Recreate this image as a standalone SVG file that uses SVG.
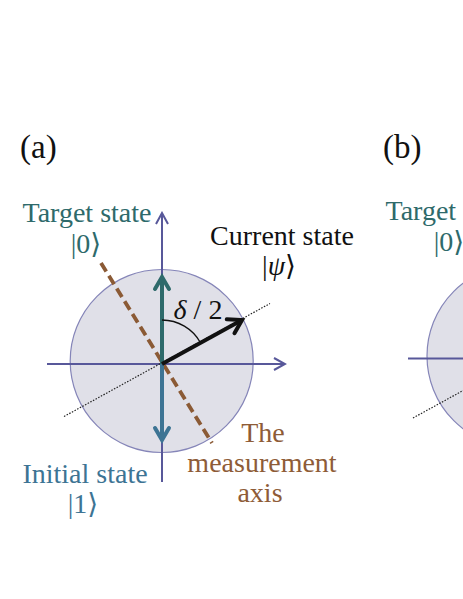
<svg xmlns="http://www.w3.org/2000/svg" width="463" height="599" viewBox="0 0 463 599">
<defs>
<style>
text { font-family: "Liberation Serif", "DejaVu Serif", serif; font-size: 28px; text-anchor: middle; }
.panel { font-size: 33px; text-anchor: start; fill: #111; }
.teal { fill: #2e6a6b; }
.blue { fill: #3d7494; }
.brown { fill: #8e5c37; }
.dark { fill: #111; }
.axis { stroke: #58589a; stroke-width: 2; fill: none; }
.circ { fill: #e0e0e8; stroke: #8585b8; stroke-width: 1.2; }
.dot { stroke: #222; stroke-width: 1.2; stroke-dasharray: 1.5 1.5; fill: none; }
.dash { stroke: #8b5a35; stroke-width: 3.8; stroke-dasharray: 10 5; fill: none; }
.arc { stroke: #111; stroke-width: 1.3; fill: none; }
</style>
<marker id="axHead" markerUnits="userSpaceOnUse" viewBox="-14 -8 16 16" markerWidth="16" markerHeight="16" refX="0" refY="0" orient="auto">
<path d="M-11,-6 L0,0 L-11,6" fill="none" stroke="#58589a" stroke-width="2"/>
</marker>
<marker id="tealHead" markerUnits="userSpaceOnUse" viewBox="-16 -10 20 20" markerWidth="20" markerHeight="20" refX="0" refY="0" orient="auto">
<path d="M-12,-7 L0,0 L-12,7" fill="none" stroke="#2e6a6b" stroke-width="4" stroke-linecap="round"/>
</marker>
<marker id="blueHead" markerUnits="userSpaceOnUse" viewBox="-16 -10 20 20" markerWidth="20" markerHeight="20" refX="0" refY="0" orient="auto">
<path d="M-12,-7 L0,0 L-12,7" fill="none" stroke="#3d7494" stroke-width="4" stroke-linecap="round"/>
</marker>
<marker id="blackHead" markerUnits="userSpaceOnUse" viewBox="-18 -11 22 22" markerWidth="22" markerHeight="22" refX="0" refY="0" orient="auto">
<path d="M-13,-8 L0,0 L-13,8" fill="none" stroke="#111" stroke-width="4" stroke-linecap="round"/>
</marker>
</defs>

<g id="panel-a">
<g id="label-a"><text class="panel" x="20" y="158">(a)</text></g>
<g id="bloch-circle-a"><circle class="circ" cx="161.7" cy="361" r="91.5"/></g>
<g id="connectors-a">
<line class="axis" x1="47" y1="364" x2="285" y2="364" marker-end="url(#axHead)"/>
<line class="axis" x1="162" y1="482" x2="162" y2="213" marker-end="url(#axHead)"/>
<line class="dot" x1="64" y1="416.5" x2="270" y2="303.5"/>
<line class="dash" x1="101" y1="263" x2="212" y2="443"/>
<line x1="162" y1="364" x2="162" y2="277" stroke="#2e6a6b" stroke-width="4" marker-end="url(#tealHead)"/>
<line x1="162" y1="364" x2="162" y2="440" stroke="#3d7494" stroke-width="4" marker-end="url(#blueHead)"/>
<line x1="162" y1="364" x2="242" y2="320" stroke="#111" stroke-width="4" marker-end="url(#blackHead)"/>
<path class="arc" d="M162,320 A44,44 0 0 1 200.5,342.7"/>
</g>
<g id="angle-label"><text class="dark" x="198" y="319" font-size="25"><tspan font-style="italic">δ</tspan> / 2</text></g>
<g id="target-state-a">
<text class="teal" x="87" y="222">Target state</text>
<text class="teal" x="86" y="253">|0⟩</text>
</g>
<g id="current-state">
<text class="dark" x="282" y="245">Current state</text>
<text class="dark" x="279" y="275">|<tspan font-style="italic">ψ</tspan>⟩</text>
</g>
<g id="measurement-axis-label">
<text class="brown" x="263" y="442">The</text>
<text class="brown" x="262" y="472">measurement</text>
<text class="brown" x="260" y="502">axis</text>
</g>
<g id="initial-state">
<text class="blue" x="85" y="483">Initial state</text>
<text class="blue" x="83" y="513">|1⟩</text>
</g>
</g>

<g id="panel-b">
<g id="label-b"><text class="panel" x="383" y="158">(b)</text></g>
<g id="bloch-circle-b"><circle class="circ" cx="518.5" cy="356" r="91.5"/></g>
<g id="connectors-b">
<line class="axis" x1="408" y1="358.5" x2="470" y2="358.5"/>
<line class="dot" x1="413" y1="418" x2="475" y2="384"/>
</g>
<g id="target-state-b">
<text class="teal" x="450" y="220">Target state</text>
<text class="teal" x="449" y="251">|0⟩</text>
</g>
</g>
</svg>
